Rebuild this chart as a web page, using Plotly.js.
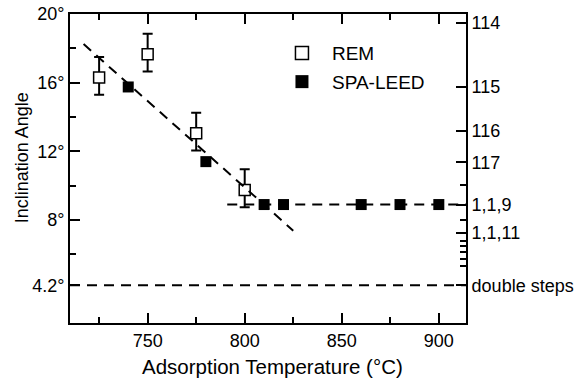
<!DOCTYPE html>
<html>
<head>
<meta charset="utf-8">
<script src="https://cdn.plot.ly/plotly-3.0.1.min.js"></script>
<style>html,body{margin:0;padding:0;background:#fff;}#chart{width:583px;height:380px;}</style>
</head>
<body>
<div id="chart"></div>
<script>
// REM data (open squares with error bars)
const remTemp = [725, 750, 775, 800];
const remAngle = [16.3, 17.65, 13.05, 9.75];
const remErrPlus = [1.2, 1.2, 1.2, 1.2];
const remErrMinus = [1.0, 1.0, 1.0, 1.0];

// SPA-LEED data (filled squares)
const leedTemp = [740, 780, 810, 820, 860, 880, 900];
const leedAngle = [15.75, 11.4, 8.9, 8.9, 8.9, 8.9, 8.9];

// guide lines
const fitTemp = [717, 825];
const fitAngle = [18.25, 7.38];
const plateauTemp = [791, 914];
const plateauAngle = [8.9, 8.9];
const doubleTemp = [710, 914];
const doubleAngle = [4.2, 4.2];

// left axis ticks
const leftTickVals = [20, 16, 12, 8, 4.2];
const leftTickText = ['20°', '16°', '12°', '8°', '4.2°'];
const leftMinorVals = [18, 14, 10, 6];

// right axis ticks (surface orientations)
const rightTickVals = [19.47, 15.75, 13.2, 11.35, 8.9, 7.25, 4.2];
const rightTickText = ['114', '115', '116', '117', '1,1,9', '1,1,11', 'double steps'];
const rightMinorVals = [10.03, 8.02, 6.8, 6.47, 6.11, 5.71, 5.33];

const xTickVals = [750, 800, 850, 900];
const xMinorVals = [725, 775, 825, 875];

const seriesNames = ['REM', 'SPA-LEED'];
const xTitle = 'Adsorption Temperature (°C)';
const yTitle = 'Inclination Angle';

const FONT = 'Liberation Sans, Arial, Helvetica, sans-serif';
const dashPat = '10px,7px';
const openSq = {symbol: 'square', color: '#fff', line: {color: '#000', width: 1.5}};
const fillSq = {symbol: 'square', color: '#000', line: {color: '#000', width: 0}};

const traces = [
  {
    x: remTemp, y: remAngle, type: 'scatter', mode: 'markers', name: seriesNames[0], showlegend: false,
    marker: Object.assign({size: 11}, openSq),
    error_y: {type: 'data', array: remErrPlus, arrayminus: remErrMinus, color: '#000', thickness: 2, width: 5}
  },
  {
    x: leedTemp, y: leedAngle, type: 'scatter', mode: 'markers', name: seriesNames[1], showlegend: false,
    marker: Object.assign({size: 11}, fillSq)
  },
  {x: fitTemp, y: fitAngle, type: 'scatter', mode: 'lines', showlegend: false, hoverinfo: 'skip',
   line: {color: '#000', width: 2, dash: dashPat}},
  {x: plateauTemp, y: plateauAngle, type: 'scatter', mode: 'lines', showlegend: false, hoverinfo: 'skip',
   line: {color: '#000', width: 2, dash: dashPat}},
  {x: doubleTemp, y: doubleAngle, type: 'scatter', mode: 'lines', showlegend: false, hoverinfo: 'skip',
   line: {color: '#000', width: 2, dash: dashPat}},
  // legend entries (larger symbols, as in the original key)
  {x: [null], y: [null], type: 'scatter', mode: 'markers', name: seriesNames[0], legendgroup: 'a',
   marker: Object.assign({size: 13}, openSq)},
  {x: [null], y: [null], type: 'scatter', mode: 'markers', name: seriesNames[1], legendgroup: 'b',
   marker: Object.assign({size: 13}, fillSq)},
  {x: [800], y: [10], yaxis: 'y2', type: 'scatter', mode: 'markers', showlegend: false, hoverinfo: 'skip',
   marker: {opacity: 0}}
];

const layout = {
  width: 583, height: 380,
  margin: {l: 70, r: 117, t: 14, b: 57},
  paper_bgcolor: '#fff', plot_bgcolor: '#fff',
  font: {family: FONT, color: '#000', size: 18},
  showlegend: true,
  legend: {x: 0.51, y: 0.935, xanchor: 'left', yanchor: 'top', bgcolor: 'rgba(0,0,0,0)',
           font: {size: 19, family: FONT}, itemwidth: 50, tracegroupgap: 1, traceorder: 'grouped'},
  annotations: [
    {text: xTitle, xref: 'paper', yref: 'paper', x: 0.511, y: -0.141, xanchor: 'center', yanchor: 'middle',
     showarrow: false, font: {size: 20.5, family: FONT, color: '#000'}},
    {text: yTitle, xref: 'paper', yref: 'paper', x: -0.122, y: 0.535, xanchor: 'center', yanchor: 'middle',
     textangle: -90, showarrow: false, font: {size: 18, family: FONT, color: '#000'}}
  ],
  xaxis: {
    range: [710, 914], showline: true, linecolor: '#000', linewidth: 2, mirror: 'ticks',
    ticks: 'inside', ticklen: 10, tickwidth: 2, tickcolor: '#000',
    tickmode: 'array', tickvals: xTickVals, showgrid: false, zeroline: false,
    tickfont: {size: 18, family: FONT},
    minor: {tickvals: xMinorVals, ticks: 'inside', ticklen: 6, tickwidth: 2, tickcolor: '#000', showgrid: false}
  },
  yaxis: {
    range: [2, 20], showline: true, linecolor: '#000', linewidth: 2,
    ticks: 'inside', ticklen: 10, tickwidth: 2, tickcolor: '#000',
    tickmode: 'array', tickvals: leftTickVals, ticktext: leftTickText,
    showgrid: false, zeroline: false, tickfont: {size: 18, family: FONT},
    minor: {tickvals: leftMinorVals, ticks: 'inside', ticklen: 6, tickwidth: 2, tickcolor: '#000', showgrid: false}
  },
  yaxis2: {
    overlaying: 'y', side: 'right', range: [2, 20], showline: true, linecolor: '#000', linewidth: 2,
    ticks: 'inside', ticklen: 10, tickwidth: 2, tickcolor: '#000',
    tickmode: 'array', tickvals: rightTickVals, ticktext: rightTickText,
    showgrid: false, zeroline: false, tickfont: {size: 18, family: FONT},
    minor: {tickvals: rightMinorVals, ticks: 'inside', ticklen: 6, tickwidth: 2, tickcolor: '#000', showgrid: false}
  }
};

Plotly.newPlot('chart', traces, layout, {displayModeBar: false, staticPlot: true});
</script>
</body>
</html>
